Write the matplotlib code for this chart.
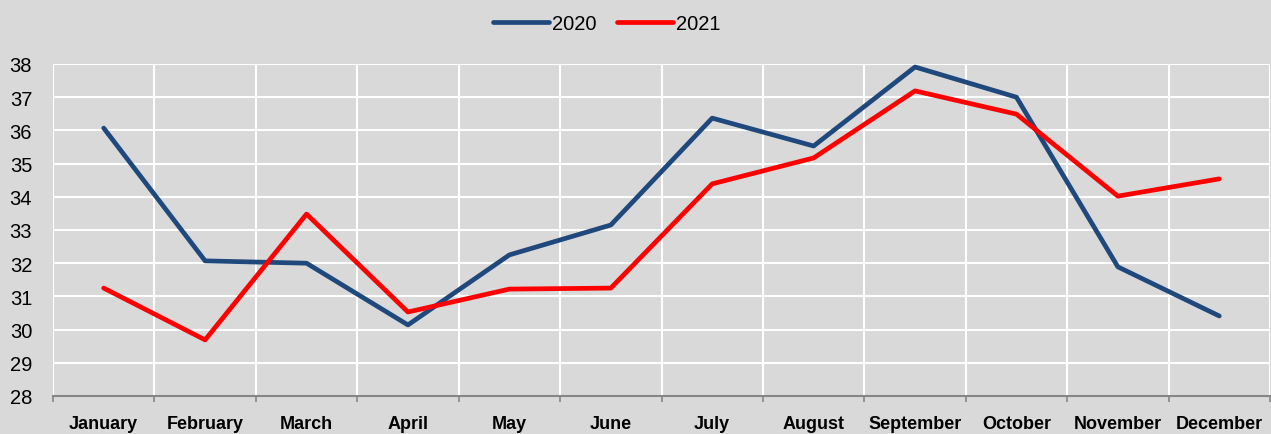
import matplotlib
matplotlib.use("Agg")
import matplotlib.pyplot as plt
import numpy as np

months = ["January", "February", "March", "April", "May", "June", "July",
          "August", "September", "October", "November", "December"]
values_2020 = [36.07, 32.07, 32.0, 30.14, 32.25, 33.15, 36.37, 35.53, 37.91, 37.0, 31.89, 30.41]
values_2021 = [31.25, 29.69, 33.48, 30.53, 31.22, 31.25, 34.39, 35.17, 37.19, 36.49, 34.02, 34.54]
y_ticks = list(range(28, 39))

BG = "#d9d9d9"
plt.rcParams["font.family"] = ["Liberation Sans", "DejaVu Sans"]

fig = plt.figure(figsize=(12.71, 4.35), dpi=100, facecolor=BG)
ax = fig.add_axes([53 / 1271, 1 - 397 / 435, 1217 / 1271, 332 / 435])
ax.set_facecolor(BG)

x = np.arange(len(months))
ax.plot(x, values_2020, color="#1f497d", lw=3.4, label="2020",
        solid_capstyle="round", solid_joinstyle="round", zorder=3)
ax.plot(x, values_2021, color="#ff0000", lw=3.4, label="2021",
        solid_capstyle="round", solid_joinstyle="round", zorder=3)

ax.set_xlim(-0.5, len(months) - 0.5)
ax.set_ylim(y_ticks[0], y_ticks[-1])
ax.set_yticks(y_ticks)
ax.set_xticks(x)
ax.set_xticklabels(months, fontweight="bold", fontsize=13)
ax.set_xticks(np.arange(-0.5, len(months)), minor=True)

ax.tick_params(axis="y", length=0, pad=15, labelsize=14.5)
ax.tick_params(axis="x", which="major", length=0, pad=14)
ax.tick_params(axis="x", which="minor", length=4, width=1.2, color="#868686", direction="out")

ax.grid(axis="y", color="white", lw=1.5)
ax.grid(axis="x", which="minor", color="white", lw=1.5)
ax.set_axisbelow(True)
for side in ["left", "right", "top"]:
    ax.spines[side].set_visible(False)
ax.spines["bottom"].set_color("#868686")
ax.spines["bottom"].set_linewidth(1.5)
ax.spines["bottom"].set_zorder(4)

fig.legend(loc="center", bbox_to_anchor=(607 / 1271, 1 - 25 / 435), ncol=2,
           frameon=False, fontsize=14.5, handlelength=2.8, handletextpad=0.15,
           columnspacing=1.0)

fig.savefig("out.png", dpi=100, facecolor=BG)
